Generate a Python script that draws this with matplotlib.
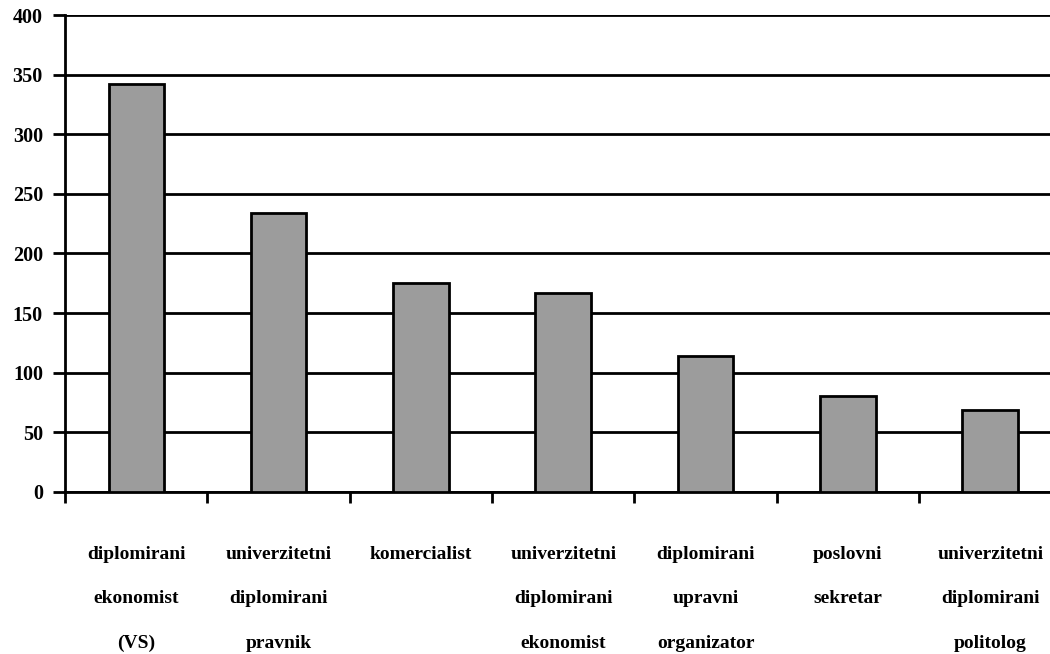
import matplotlib.pyplot as plt
import numpy as np

categories = [
    "diplomirani\nekonomist\n(VS)",
    "univerzitetni\ndiplomirani\npravnik",
    "komercialist\n\n",
    "univerzitetni\ndiplomirani\nekonomist",
    "diplomirani\nupravni\norganizator",
    "poslovni\nsekretar\n",
    "univerzitetni\ndiplomirani\npolitolog",
]
values = [342, 234, 175, 167, 114, 80, 69]
yticks = [0, 50, 100, 150, 200, 250, 300, 350, 400]

plt.rcParams['font.family'] = ['Liberation Serif', 'DejaVu Serif']

fig = plt.figure(figsize=(10.5, 6.54), dpi=100)
ax = fig.add_axes([0.062, 0.248, 0.938, 0.729])

x = np.arange(len(values))
ax.set_axisbelow(True)
ax.bar(x, values, width=0.39, color='#9c9c9c', edgecolor='black', linewidth=2, zorder=3)

ax.set_ylim(0, 400)
ax.set_xlim(-0.49, 6.42)
ax.set_yticks(yticks)
ax.set_yticklabels([str(v) for v in yticks], fontweight='bold', fontsize=14.5)
ax.yaxis.grid(True, color='black', linewidth=2)

# boundary ticks (marks only) and centred labels
ax.set_xticks(np.arange(len(values)) - 0.5)
ax.set_xticklabels([])
ax.set_xticks(x, minor=True)
ax.set_xticklabels(categories, minor=True, fontweight='bold', fontsize=14, linespacing=3.1)
ax.tick_params(axis='x', which='major', direction='out', length=8, width=2)
ax.tick_params(axis='x', which='minor', length=0, pad=39)
ax.tick_params(axis='y', direction='out', length=9, width=2, pad=7)

for side in ['top', 'right']:
    ax.spines[side].set_visible(False)
ax.spines['left'].set_linewidth(2)
ax.spines['bottom'].set_linewidth(2)

fig.savefig('out.png', dpi=100)
